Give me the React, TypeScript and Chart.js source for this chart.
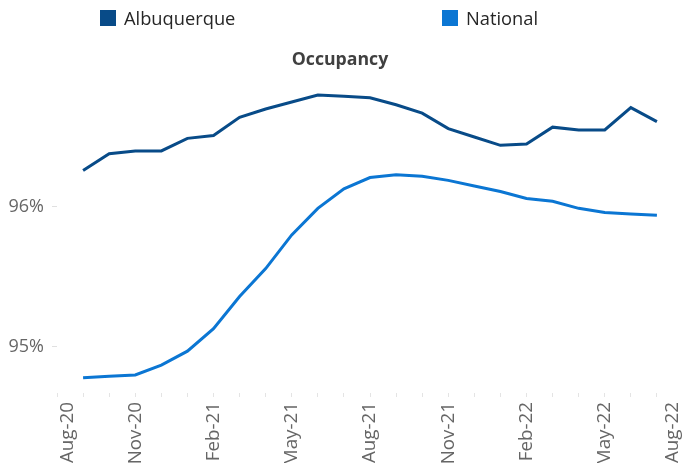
import React, { useEffect, useRef } from 'react';
import { Chart, registerables } from 'chart.js';

Chart.register(...registerables);

const months = [
  'Aug-20', 'Sep-20', 'Oct-20', 'Nov-20', 'Dec-20', 'Jan-21', 'Feb-21', 'Mar-21', 'Apr-21',
  'May-21', 'Jun-21', 'Jul-21', 'Aug-21', 'Sep-21', 'Oct-21', 'Nov-21', 'Dec-21', 'Jan-22',
  'Feb-22', 'Mar-22', 'Apr-22', 'May-22', 'Jun-22', 'Jul-22', 'Aug-22',
];
const shownMonthLabels = ['Aug-20', 'Nov-20', 'Feb-21', 'May-21', 'Aug-21', 'Nov-21', 'Feb-22', 'May-22', 'Aug-22'];

const albuquerque = [
  null, 96.26, 96.38, 96.40, 96.40, 96.49, 96.51, 96.64, 96.70, 96.75, 96.80, 96.79,
  96.78, 96.73, 96.67, 96.56, 96.50, 96.44, 96.45, 96.57, 96.55, 96.55, 96.71, 96.61, null,
];
const national = [
  null, 94.78, 94.79, 94.80, 94.87, 94.97, 95.13, 95.36, 95.56, 95.80, 95.99, 96.13,
  96.21, 96.23, 96.22, 96.19, 96.15, 96.11, 96.06, 96.04, 95.99, 95.96, 95.95, 95.94, null,
];

const seriesNames = ['Albuquerque', 'National'];
const seriesColors = ['#084b88', '#0b76d3'];
const chartTitle = 'Occupancy';
const yMin = 94.671;
const yMax = 96.904;

const headerPlugin = {
  id: 'header',
  afterDraw(chart: any) {
    const ctx = chart.ctx;
    const starts = [100, 442];
    ctx.save();
    chart.data.datasets.forEach((ds: any, i: number) => {
      ctx.fillStyle = ds.borderColor;
      ctx.fillRect(starts[i], 10, 16, 16);
      ctx.fillStyle = '#262626';
      ctx.font = '18.3px "Open Sans"';
      ctx.textAlign = 'left';
      ctx.textBaseline = 'alphabetic';
      ctx.fillText(ds.label, starts[i] + 24, 25);
    });
    ctx.fillStyle = '#404040';
    ctx.font = 'bold 17.7px "Open Sans"';
    ctx.textAlign = 'center';
    ctx.textBaseline = 'alphabetic';
    ctx.fillText(chartTitle, 340, 65);
    ctx.restore();
  },
};

const edgeLabelPlugin = {
  id: 'edgeLabels',
  beforeDraw(chart: any) {
    const scale = chart.scales.x;
    const items = scale.getLabelItems(chart.chartArea);
    if (!items || !items.length || (items as any)._shifted) return;
    items[0].options.translation[0] += 11;
    items[items.length - 1].options.translation[0] -= 10;
    (items as any)._shifted = true;
  },
};

export default function App() {
  const canvasRef = useRef<HTMLCanvasElement | null>(null);

  useEffect(() => {
    if (!canvasRef.current) return;
    const chart = new Chart(canvasRef.current, {
      type: 'line',
      data: {
        labels: months,
        datasets: [
          {
            label: seriesNames[0],
            data: albuquerque,
            borderColor: seriesColors[0],
            backgroundColor: seriesColors[0],
            borderWidth: 3,
            pointRadius: 0,
            tension: 0,
          },
          {
            label: seriesNames[1],
            data: national,
            borderColor: seriesColors[1],
            backgroundColor: seriesColors[1],
            borderWidth: 3,
            pointRadius: 0,
            tension: 0,
          },
        ],
      },
      options: {
        animation: false,
        responsive: false,
        devicePixelRatio: 1,
        layout: { padding: { left: 8, right: -4, top: 80.4, bottom: 6 } },
        plugins: {
          legend: { display: false },
          tooltip: { enabled: false },
          title: { display: false },
        },
        scales: {
          x: {
            type: 'category',
            grid: { display: true, drawOnChartArea: false, drawTicks: true, tickLength: 4, color: '#e4e4e4' },
            border: { display: false },
            ticks: {
              autoSkip: false,
              maxRotation: 90,
              minRotation: 90,
              padding: 5,
              color: '#666666',
              font: { family: '"Open Sans"', size: 18.8 },
              callback: function (this: any, value: any) {
                const lab = this.getLabelForValue(value);
                return shownMonthLabels.includes(lab) ? lab : '';
              },
            },
            afterFit: (scale: any) => {
              scale.height = 70;
              scale.paddingLeft = 0;
              scale.paddingRight = 0;
            },
          },
          y: {
            min: yMin,
            max: yMax,
            grid: { display: true, drawOnChartArea: false, drawTicks: true, tickLength: 5, color: '#e0e0e0' },
            border: { display: false },
            ticks: {
              stepSize: 1,
              includeBounds: false,
              padding: 8,
              color: '#666666',
              font: { family: '"Open Sans"', size: 18 },
              callback: (v: any) => `${v}%`,
            },
            afterFit: (scale: any) => {
              scale.width = 49;
              scale.paddingTop = 0;
              scale.paddingBottom = 0;
            },
          },
        },
      } as any,
      plugins: [headerPlugin, edgeLabelPlugin],
    });
    return () => chart.destroy();
  }, []);

  return (
    <div style={{ position: 'fixed', left: 0, top: 0, width: 683, height: 469, background: '#ffffff' }}>
      <canvas ref={canvasRef} width={683} height={469} style={{ display: 'block' }} />
    </div>
  );
}
